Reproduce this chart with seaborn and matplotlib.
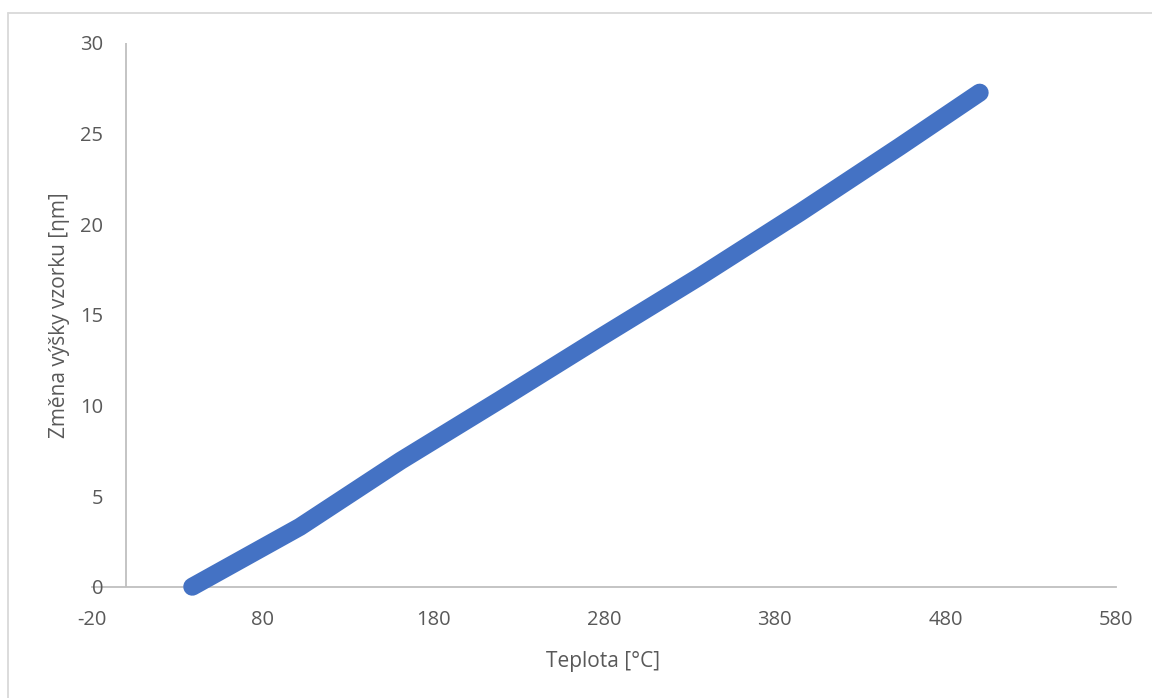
import matplotlib
matplotlib.use("Agg")
import matplotlib.pyplot as plt
import seaborn as sns
import pandas as pd
from matplotlib.lines import Line2D

# ---- data ----
temperature = [39, 102, 161, 219, 278, 336, 395, 453, 500]          # Teplota [°C]
height_change = [0.0, 3.30, 6.95, 10.30, 13.76, 17.11, 20.66, 24.27, 27.26]  # [ηm]
x_ticks = [-20, 80, 180, 280, 380, 480, 580]
y_ticks = [0, 5, 10, 15, 20, 25, 30]

df = pd.DataFrame({"Teplota": temperature, "Zmena": height_change})

sns.set_theme(style="white")
plt.rcParams["font.family"] = ["Open Sans", "DejaVu Sans"]

W, H = 1152, 698
fig = plt.figure(figsize=(W / 100, H / 100), dpi=100)
left_px, right_px, top_px, bottom_px = 91.5, 1116.3, 43.0, 586.7
ax = fig.add_axes([left_px / W, 1 - bottom_px / H,
                   (right_px - left_px) / W, (bottom_px - top_px) / H])

blue = "#4472C4"
sns.lineplot(data=df, x="Teplota", y="Zmena", ax=ax, color=blue,
             linewidth=13, solid_capstyle="round", solid_joinstyle="round",
             sort=False, estimator=None, clip_on=False, zorder=3)

ax.set_xlim(-20, 580)
ax.set_ylim(0, 30)
ax.set_xticks(x_ticks)
ax.set_yticks(y_ticks)
ax.set_xticklabels([str(v) for v in x_ticks])
ax.set_yticklabels([str(v) for v in y_ticks])

for s in ["top", "right", "left"]:
    ax.spines[s].set_visible(False)
ax.spines["bottom"].set_color("#BFBFBF")
ax.spines["bottom"].set_linewidth(1.3)
ax.spines["bottom"].set_zorder(0)
ax.axvline(0, color="#BFBFBF", linewidth=1.3, zorder=0)

txt_col = "#595959"
ax.tick_params(axis="x", length=0, pad=17, labelsize=14.5, labelcolor=txt_col)
ax.tick_params(axis="y", length=0, pad=-8.3, labelsize=14.5, labelcolor=txt_col)

ax.set_xlabel("Teplota [°C]", fontsize=15, color=txt_col)
ax.set_ylabel("Změna výšky vzorku [ηm]", fontsize=15, color=txt_col)
ax.xaxis.label.set_va("center")
ax.yaxis.label.set_va("center")
ax.xaxis.set_label_coords(0.4996, -(661 - bottom_px) / (bottom_px - top_px))
ax.yaxis.set_label_coords(-(left_px - 60) / (right_px - left_px), 0.5)
ax.grid(False)

# chart-area frame (top and left edges visible)
frame_col = "#D9D9D9"
fig.add_artist(Line2D([8 / W, 1.0], [1 - 13 / H, 1 - 13 / H],
                      transform=fig.transFigure, color=frame_col, linewidth=1.3))
fig.add_artist(Line2D([8 / W, 8 / W], [1 - 13 / H, 0.0],
                      transform=fig.transFigure, color=frame_col, linewidth=1.3))

fig.savefig("out.png", dpi=100, facecolor="white")
